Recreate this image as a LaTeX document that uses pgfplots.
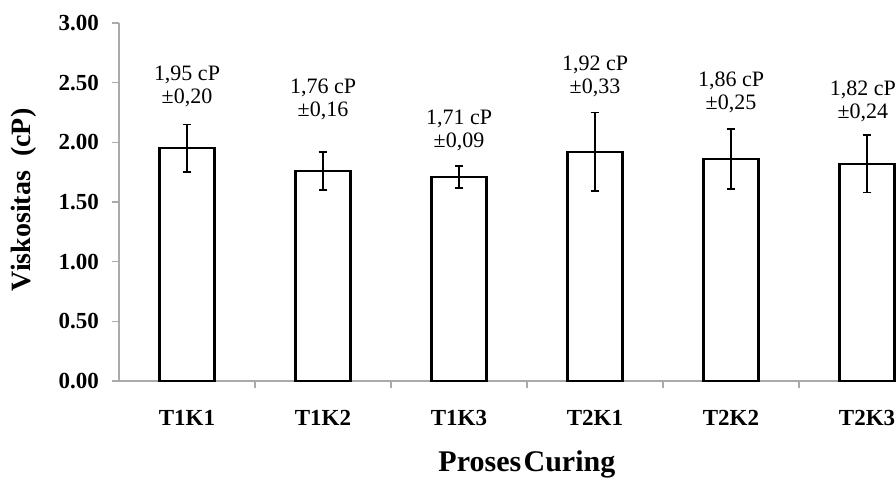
\documentclass[border=0pt]{standalone}
\usepackage{pgfplots}
\pgfplotsset{compat=1.18}
\usepackage{fontspec}
\setmainfont{Liberation Serif}
\definecolor{axisgris}{RGB}{170,170,170}

\begin{document}
\begin{tikzpicture}
\begin{axis}[
    at={(0,0)}, anchor=south west,
    scale only axis,
    width=388.5pt, height=179pt,
    xmin=-0.5, xmax=5.213,
    ymin=0, ymax=3,
    enlargelimits=false,
    axis x line*=bottom,
    axis y line*=left,
    axis line style={axisgris, line width=0.8pt},
    xtick={0,1,2,3,4,5},
    xticklabels={T1K1,T1K2,T1K3,T2K1,T2K2,T2K3},
    minor xtick={0.5,1.5,2.5,3.5,4.5},
    every major x tick/.append style={draw=none},
    ytick={0,0.5,1,1.5,2,2.5,3},
    tick align=outside,
    major tick length=3.5pt,
    minor tick length=3.5pt,
    tick style={axisgris, line width=0.6pt},
    /pgf/number format/assume math mode=true,
    tick label style={font=\bfseries\fontsize{11.5}{13}\selectfont},
    yticklabel style={xshift=-3pt, /pgf/number format/.cd, fixed, fixed zerofill, precision=2},
    xticklabel style={yshift=-7.5pt},
    xlabel={Proses\hspace{0.08em}Curing},
    xlabel style={at={(axis description cs:0.525,0)}, anchor=center, yshift=-41.5pt,
                  font=\bfseries\fontsize{15}{17}\selectfont},
    ylabel={Viskositas\ \ (cP)},
    ylabel style={at={(axis description cs:0,0.506)}, anchor=center, yshift=47.5pt,
                  font=\bfseries\fontsize{14}{16}\selectfont},
]
\addplot[ybar, bar width=27.5pt, fill=white, draw=black, line width=1.1pt,
         error bars/.cd, y dir=both, y explicit,
         error bar style={black, line width=0.9pt},
         error mark options={rotate=90, mark size=2.2pt, line width=0.9pt}]
coordinates {
    (0,1.95) +- (0,0.20)
    (1,1.76) +- (0,0.16)
    (2,1.71) +- (0,0.09)
    (3,1.92) +- (0,0.33)
    (4,1.86) +- (0,0.25)
    (5,1.82) +- (0,0.24)
};
\begin{scope}[every node/.style={align=center, font=\fontsize{11}{11.5}\selectfont, inner sep=0pt}]
\node at (axis cs:0,2.47) {1,95 cP\\±0,20};
\node at (axis cs:1,2.36) {1,76 cP\\±0,16};
\node at (axis cs:2,2.10) {1,71 cP\\±0,09};
\node at (axis cs:3,2.55) {1,92 cP\\±0,33};
\node at (axis cs:4,2.42) {1,86 cP\\±0,25};
\node at (axis cs:4.97,2.34) {1,82 cP\\±0,24};
\end{scope}
\end{axis}
\pgfresetboundingbox
\path[use as bounding box] (-59.5pt,-49pt) rectangle (388.5pt,190.5pt);
\end{tikzpicture}
\end{document}
